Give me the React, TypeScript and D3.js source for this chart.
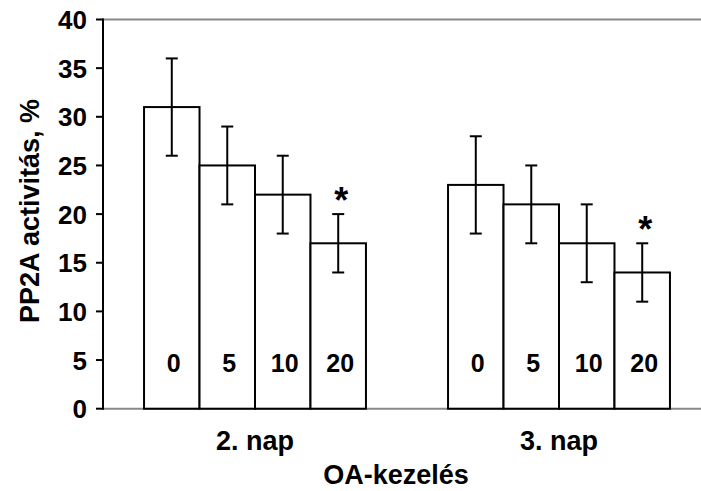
import React from "react";
import * as d3 from "d3";

const groups = ["2. nap", "3. nap"];
const doses = ["0", "5", "10", "20"];
const values = [
  [31, 25, 22, 17],
  [23, 21, 17, 14],
];
const errors = [
  [5, 4, 4, 3],
  [5, 4, 4, 3],
];
const significant = [
  [false, false, false, true],
  [false, false, false, true],
];
const yTicks = [0, 5, 10, 15, 20, 25, 30, 35, 40];

const W = 701;
const H = 491;
const left = 103;
const right = 711;
const top = 19.5;
const bottom = 408.7;
const font = "'Liberation Sans', Arial, sans-serif";

export default function App() {
  const y = d3.scaleLinear().domain([0, 40]).range([bottom, top]);
  const x0 = d3.scaleBand<string>().domain(groups).range([left, right]).paddingInner(0.27).paddingOuter(0.135);
  const x1 = d3.scaleBand<string>().domain(doses).range([0, x0.bandwidth()]).padding(0);
  const cap = 6;

  return (
    <svg width={W} height={H} style={{ position: "absolute", left: 0, top: 0 }} fontFamily={font}>
      <rect x={0} y={0} width={W} height={H} fill="#fff" />
      <line x1={left} x2={W} y1={top} y2={top} stroke="#888" strokeWidth={2} />
      <line x1={left} x2={W} y1={bottom} y2={bottom} stroke="#888" strokeWidth={2} />
      {groups.map((g, gi) => (
        <g key={g}>
          {doses.map((d, di) => {
            const bx = (x0(g) as number) + (x1(d) as number);
            const bw = x1.bandwidth();
            const cx = bx + bw / 2;
            const v = values[gi][di];
            const e = errors[gi][di];
            return (
              <g key={d}>
                <rect x={bx} y={y(v)} width={bw} height={bottom - y(v)} fill="#fff" stroke="#000" strokeWidth={2} />
                <line x1={cx} x2={cx} y1={y(v + e)} y2={y(v - e)} stroke="#000" strokeWidth={2} />
                <line x1={cx - cap} x2={cx + cap} y1={y(v + e)} y2={y(v + e)} stroke="#000" strokeWidth={2} />
                <line x1={cx - cap} x2={cx + cap} y1={y(v - e)} y2={y(v - e)} stroke="#000" strokeWidth={2} />
                <text x={cx + 2} y={372} textAnchor="middle" fontSize={25} fontWeight="bold">{d}</text>
                {significant[gi][di] && (
                  <text x={cx + 3} y={y(v + e) - 1} textAnchor="middle" fontSize={36} fontWeight="bold">*</text>
                )}
              </g>
            );
          })}
          <text x={(x0(g) as number) + x0.bandwidth() / 2} y={450} textAnchor="middle" fontSize={27} fontWeight="bold">{g}</text>
        </g>
      ))}
      <line x1={left} x2={left} y1={top - 1} y2={bottom + 1} stroke="#000" strokeWidth={2} />
      {yTicks.map((t) => (
        <g key={t}>
          <line x1={left - 7} x2={left} y1={y(t)} y2={y(t)} stroke="#000" strokeWidth={2} />
          <text x={87} y={y(t) + 9.5} textAnchor="end" fontSize={26} fontWeight="bold">{t}</text>
        </g>
      ))}
      <text x={396} y={484} textAnchor="middle" fontSize={27} fontWeight="bold">OA-kezelés</text>
      <text transform={`translate(39,211) rotate(-90)`} textAnchor="middle" fontSize={27} fontWeight="bold">PP2A activitás, %</text>
    </svg>
  );
}
